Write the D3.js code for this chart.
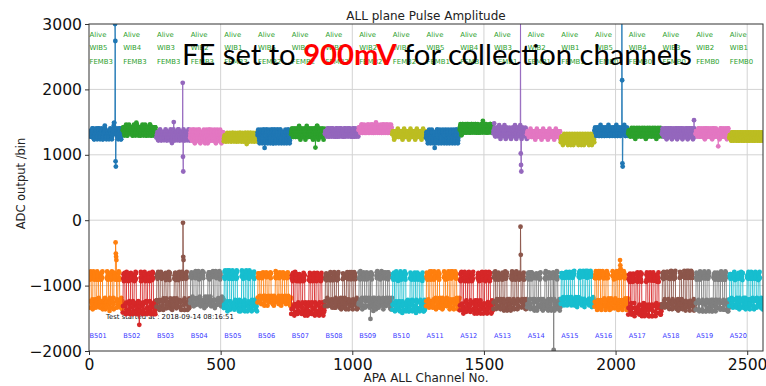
<!DOCTYPE html>
<html>
<head>
<meta charset="utf-8">
<script src="https://cdn.jsdelivr.net/npm/d3@7"></script>
<style>
  html, body { margin: 0; padding: 0; background: #fff; }
  svg { display: block; }
</style>
</head>
<body>
<svg id="chart" width="766" height="386"></svg>
<script>
// ---------------------------------------------------------------------------
// Data
// ---------------------------------------------------------------------------
const xTicks = [0, 500, 1000, 1500, 2000, 2500];
const yTicks = [-2000, -1000, 0, 1000, 2000, 3000];
const channelsPerFemb = 128;

// label rows written at the top / bottom of every FEMB column
const statusLabels = Array(20).fill("Alive");
const wibLabels = ["WIB5","WIB4","WIB3","WIB2","WIB1","WIB5","WIB4","WIB3","WIB2","WIB1",
                   "WIB5","WIB4","WIB3","WIB2","WIB1","WIB5","WIB4","WIB3","WIB2","WIB1"];
const fembLabels = ["FEMB3","FEMB3","FEMB3","FEMB3","FEMB3","FEMB2","FEMB2","FEMB2","FEMB2","FEMB2",
                    "FEMB1","FEMB1","FEMB1","FEMB1","FEMB1","FEMB0","FEMB0","FEMB0","FEMB0","FEMB0"];
const boardLabels = ["B501","B502","B503","B504","B505","B506","B507","B508","B509","B510",
                     "A511","A512","A513","A514","A515","A516","A517","A518","A519","A520"];
const testStamp = "Test started at : 2018-09-14 08:16:51";

// positive pulse amplitude: mean level per FEMB (ADC bins)
const posLevel = [1300,1315,1285,1280,1270,1280,1295,1300,1315,1295,
                  1280,1320,1305,1295,1255,1310,1305,1300,1300,1280];
// negative pulse amplitude: level of collection-type and induction-type channels per FEMB
const negCollect = [-865,-870,-870,-860,-850,-860,-870,-875,-860,-865,
                    -865,-870,-865,-860,-855,-860,-880,-855,-865,-870];
const negInduct = [-1300,-1350,-1310,-1280,-1330,-1270,-1370,-1300,-1300,-1330,
                   -1300,-1340,-1320,-1320,-1290,-1310,-1380,-1320,-1330,-1300];

// channel type inside a FEMB: 1 = collection-type level, 0 = induction-type level
const channelMask = [
  "00",
  "1111111" + "000000" + "11111111" + "0000000" + "1111111" + "0000000" + "11111111" + "000000",
  "0000000000",
  "1111111" + "0000000" + "1111111" + "000000" + "11111111" + "0000000" + "1111111" + "000000",
  "00000"
].join("");

// per-channel deviation codes (0..9, 4.5 = FEMB level), positive amplitude
const posDev = [
"5565 6654 4455 6776 5443 3445 5667 6543 4456 7765 5434 5566 7654 3345 5667 8765 4434 5666 5544 3456 6765 5443 4556 6789 9654 3445 5676 5443 4566 7765 4334 5667",
"6677 6554 5667 7865 5445 6677 8765 5566 7776 5445 6678 7655 4556 6787 6554 5667 7654 4556 6778 7654 5566 7876 5445 6677 6554 5668 8765 4456 6776 5545 6677 7654",
"4455 6543 3445 5676 5433 4556 6654 4344 5567 6543 3455 6654 4345 5676 5432 3456 6765 4334 5566 5443 4567 7654 3345 5665 4434 5677 6543 3456 6654 4345 5676 5433",
"4567 6543 3456 7765 4323 4567 6654 3345 6776 5432 3456 6543 4456 7654 3234 5676 5432 3456 7765 4334 5676 5443 3456 6765 4323 4567 6654 3345 5676 5432 4456 6654",
"3445 5543 3345 5654 4334 4556 5543 3344 5665 4433 4556 5443 3345 5654 3344 5665 4433 3456 5543 3345 5665 4432 3456 6543 3344 5665 4433 4556 5443 3345 5654 4433",
"5667 6543 2345 6765 4323 4567 7654 3234 5677 6432 3456 7654 3234 5677 6532 2456 7765 4323 4567 7654 3234 5677 6432 3456 6654 3234 5676 6432 3456 7765 4323 4566",
"5667 7654 4566 7765 4456 6776 5445 6787 6543 4567 7654 4456 6776 5434 5678 7654 4456 6776 5445 6677 6543 4567 7765 4456 6788 6543 4567 7654 4456 6776 5443 5667",
"5566 6654 5567 7654 4566 6765 5456 7765 5456 6654 4567 7654 5456 6765 4556 7765 5456 6654 4567 7654 5566 6765 4556 7765 5456 6654 4567 7654 5456 6765 4556 6654",
"6677 7765 5678 8765 5667 7876 5567 7765 6678 8765 5667 7876 5678 8765 5667 7765 6678 8876 5667 7765 6678 7765 5667 8876 5678 7765 6678 8765 5667 7876 5678 7765",
"5566 6543 4556 6654 4455 6765 4456 6654 4556 6543 4456 6765 4456 6654 4556 6543 4456 6765 4456 6654 4556 6543 4456 6765 4455 6654 4556 6543 4456 6765 4456 6654",
"4566 6432 3456 7654 3234 5676 6432 3456 6654 3234 5677 6543 2345 6765 4323 4566 7654 3234 5676 6432 3456 7654 3234 5667 6543 2345 6765 4323 4567 7654 3234 5676",
"6778 7654 5678 8765 5667 7876 5567 8876 5678 7765 5667 8876 5678 7765 6678 8765 5667 7876 5567 7765 6678 8765 5667 7876 5678 8765 5667 7765 6678 8876 5667 7765",
"5667 7654 4567 7765 5456 6787 6543 4567 7765 5456 6787 6543 4567 7765 5456 6776 6543 4567 7765 5456 6787 6543 4567 7765 5456 6787 6543 4567 7765 5456 6776 6543",
"5566 6654 4456 6765 4456 6654 4556 6643 4456 6765 4556 6654 4456 6643 4556 6765 4456 6654 4556 6643 4456 6765 4456 6654 4556 6643 4456 6765 4556 6654 4456 6643",
"3445 5543 2345 5654 3334 4556 5432 3345 5654 3323 4556 5543 2345 5654 3334 4556 5432 3345 5654 3323 4556 5543 2345 5654 3334 4556 5432 3345 5654 3323 4556 5543",
"6677 6554 5667 7765 5445 6678 7654 4567 7765 5445 6677 7654 5566 7876 5445 6677 6554 5667 7765 5445 6678 7654 4567 7765 5445 6677 7654 5566 7876 5445 6677 6554",
"5566 6554 4456 6765 5445 5676 6543 4456 6765 5445 5676 6654 4456 6765 5445 5676 6543 4456 6765 5445 5676 6654 4456 6765 5445 5676 6543 4456 6765 5445 5676 6654",
"5567 6654 4456 6776 5434 5667 7654 4456 6776 5434 5667 6654 4456 6776 5434 5667 7654 4456 6776 5434 5667 6654 4456 6776 5434 5667 7654 4456 6776 5434 5667 6654",
"5566 6654 5567 7654 4456 6765 5445 6676 6543 4567 7654 4456 6765 5445 6676 6543 4567 7654 4456 6765 5445 6676 6543 4567 7654 4456 6765 5445 6676 6543 4567 7654",
"4455 5543 3456 6654 3345 5665 4433 4556 6543 3345 5665 4433 4556 6543 3345 5665 4433 4556 6543 3345 5665 4433 4556 6543 3345 5665 4433 4556 6543 3345 5665 4433"
];

// per-channel deviation codes (0..9, 4.5 = level of that channel type), negative amplitude
const negDev = [
"3748 2659 4736 5827 3946 2758 4637 5829 3746 2958 4637 5728 3849 2657 4738 5926 4637 3958 2746 5819 3647 2859 4736 5928 3657 2849 4738 5627 3948 2756 4839 5627",
"2637 4158 3726 1849 2537 4618 3927 1548 2736 4819 3628 1547 2938 4716 3529 1847 2638 4917 3526 1748 2839 4617 3928 1546 2737 4819 3628 1547 2938 4716 3529 1847",
"4857 3649 5738 2846 4957 3648 5729 3847 4658 2937 5746 3859 4628 3957 5738 2846 4759 3648 5827 3946 4758 2639 5847 3726 4958 3647 5829 2746 3859 4627 5738 3946",
"5746 4837 6958 4736 5847 3968 4756 5839 4627 5948 3756 4869 5738 4627 5948 3857 4769 5638 4827 5946 3758 4869 5637 4728 5946 3857 4768 5639 4827 5738 4956 3847",
"4638 2957 3746 5829 4637 2958 3847 5726 4938 2647 3859 5746 2938 4657 3829 5746 2638 4957 3726 5849 2637 4958 3726 5847 2938 4657 3829 5746 4638 2957 3746 5829",
"5847 4736 6958 5847 4736 5869 4738 6957 5846 4738 6859 5746 4837 6958 5746 4839 5768 4937 5846 6758 4937 5846 4738 5967 4856 3748 5967 4856 3748 5967 4856 3748",
"2536 3718 4627 1839 2546 3718 2649 3817 4526 1738 2649 3518 4726 1839 2547 3618 4729 2538 1647 3829 2516 4738 2619 3847 1528 4637 2819 3546 1728 4639 2517 3846",
"4736 5827 3948 4657 5738 2946 4857 3628 5749 4836 3957 4628 5739 4846 3657 4928 5736 3847 4659 5738 2846 4957 3628 5749 4836 3957 4628 5739 4846 3657 4928 5736",
"5638 4729 3847 5926 4738 5629 3847 4958 2736 5849 4637 3958 4726 5839 1647 3958 4726 5839 4637 3948 5726 4839 3657 4928 5736 3847 4659 5738 2846 4957 3628 5749",
"3647 2538 4726 3859 2647 3518 4736 2859 3627 4518 2736 3849 4627 2538 3749 4628 2537 3846 4729 2638 3547 4826 3519 2748 3627 4538 2849 3726 4518 3627 2849 3756",
"4758 3627 5846 3759 4628 3947 5736 4829 3658 4927 3746 5839 4627 3958 4736 5829 3647 4958 3726 5849 4637 3958 4726 5839 3647 4958 3726 5849 4637 3958 4726 5839",
"3627 1849 2736 4518 3729 1648 2937 4516 3829 1746 2938 4517 2639 3748 1529 3847 2619 4738 2516 3849 1627 3948 2517 4736 2819 3647 1528 4739 2618 3547 1829 4637",
"3748 4659 2837 4956 3748 2659 4837 3956 4728 3659 2847 4936 3758 2649 4837 3956 4728 3659 2847 4936 3758 2649 4837 3956 4728 3659 2847 4936 3758 2649 4837 3956",
"4637 3528 4759 3648 2837 4659 3748 2936 4657 3728 4859 3647 2738 4659 3846 2937 4658 3729 4846 3657 2938 4756 3649 2837 4658 3749 2836 4657 3928 4746 3659 2847",
"5847 4736 5968 4857 3746 5869 4758 5937 4846 5768 4957 3846 5769 4858 5947 4736 5869 4758 3947 5868 4756 5947 4836 5769 4858 3947 5768 4856 5947 4738 5869 4757",
"4736 3958 4627 5849 3736 4958 3627 4849 5736 3958 4627 3849 5736 4958 3627 4849 3736 5958 4627 3849 4736 3958 5627 4849 3736 4958 3627 5849 4736 3958 4627 3849",
"2637 3518 1749 2636 3518 2749 1636 3528 2749 1637 3528 2649 3718 1547 2839 3617 2548 1739 3627 2518 1749 3636 2518 1749 3627 2548 1739 3617 2549 1738 3627 2548",
"4637 5728 3849 4657 5738 3846 4957 3628 4759 5836 3947 4628 5739 4846 3657 4928 5736 3847 4659 5738 3846 4957 3628 4759 5836 3947 4628 5739 4846 3657 4928 5736",
"3748 2657 4839 3726 2958 4637 3829 2746 4958 3627 2849 4736 3958 2647 4839 3726 2958 4637 3829 2746 4958 3627 2849 4736 3958 2647 4839 3726 2958 4637 3829 2746",
"4857 3746 5968 4837 3759 4628 5847 3956 4738 5629 4837 3946 5728 4639 3857 4926 5738 4647 3958 4726 5839 4657 3948 4726 5839 4657 3948 4726 5839 4657 3948 4726"
];

// channels whose amplitude is far from the FEMB level: [channel, ADC]
const posOutliers = [[99, 3000], [100, 2740], [101, 900], [102, 820],
                     [180, 1490], [322, 1500], [356, 2100], [357, 970], [358, 745],
                     [667, 1105], [860, 1110], [1090, 1495], [1313, 1105],
                     [1496, 1520], [1539, 1480],
                     [1639, 3300], [1640, 1020], [1641, 845], [1642, 745],
                     [2024, 3040], [2025, 2140], [2026, 870], [2027, 820],
                     [2298, 1530], [2390, 1130]];
const negOutliers = [[101, -340], [102, -510], [103, -560], [104, -610],
                     [191, -1600],
                     [357, -40], [358, -560], [359, -610],
                     [1069, -1510],
                     [1639, -100], [1640, -530],
                     [1765, -1985],
                     [2017, -610], [2018, -690], [2019, -740]];

// ---------------------------------------------------------------------------
// Layout / style
// ---------------------------------------------------------------------------
const W = 766, H = 386;
const plot = { left: 89, right: 763, top: 24, bottom: 351 };
const palette = ["#1f77b4","#ff7f0e","#2ca02c","#d62728","#9467bd",
                 "#8c564b","#e377c2","#7f7f7f","#bcbd22","#17becf"];
const axisFont = "'DejaVu Sans', sans-serif";
const posStep = 42, collStep = 18, indStep = 25;   // ADC bins per deviation code

const x = d3.scaleLinear().domain([0, 2560]).range([plot.left, plot.right]);
const y = d3.scaleLinear().domain([-2000, 3000]).range([plot.bottom, plot.top]);

function codes(str) {
  const c = str.replace(/\s+/g, "").split("").map(Number);
  return c.slice(0, channelsPerFemb);
}

// build one positive and one negative series per FEMB
const series = [];
const posOut = new Map(posOutliers), negOut = new Map(negOutliers);
for (let k = 0; k < 20; k++) {
  const pos = codes(posDev[k]).map((c, i) => {
    const ch = k * channelsPerFemb + i;
    return { ch, v: posOut.has(ch) ? posOut.get(ch) : posLevel[k] + (c - 4.5) * posStep };
  });
  const neg = codes(negDev[k]).map((c, i) => {
    const ch = k * channelsPerFemb + i;
    const coll = channelMask[i] === "1";
    const v = coll ? negCollect[k] + (c - 4.5) * collStep : negInduct[k] + (c - 4.5) * indStep;
    return { ch, v: negOut.has(ch) ? negOut.get(ch) : v };
  });
  series.push({ data: pos, color: palette[(2 * k) % 10] });
  series.push({ data: neg, color: palette[(2 * k + 1) % 10] });
}

// ---------------------------------------------------------------------------
// Drawing
// ---------------------------------------------------------------------------
const svg = d3.select("#chart");

svg.append("defs").append("clipPath").attr("id", "plotClip")
  .append("rect")
  .attr("x", plot.left).attr("y", plot.top)
  .attr("width", plot.right - plot.left).attr("height", plot.bottom - plot.top);

// grid
const grid = svg.append("g").attr("stroke", "#d3d3d3").attr("stroke-width", 1);
grid.selectAll(".gx").data(xTicks.filter(t => t > 0)).join("line")
  .attr("x1", d => x(d)).attr("x2", d => x(d))
  .attr("y1", plot.top).attr("y2", plot.bottom);
grid.selectAll(".gy").data(yTicks.filter(t => t > -2000 && t < 3000)).join("line")
  .attr("x1", plot.left).attr("x2", plot.right)
  .attr("y1", d => y(d)).attr("y2", d => y(d));

// timestamp sits beneath the data
svg.append("text")
  .attr("x", x(65)).attr("y", y(-1505))
  .attr("font-family", axisFont).attr("font-size", 6.8).attr("fill", "#111")
  .text(testStamp);

// data series: line with circle markers
const line = d3.line().x(d => x(d.ch)).y(d => y(d.v));
const dataG = svg.append("g").attr("clip-path", "url(#plotClip)");
series.forEach(s => {
  const g = dataG.append("g");
  g.append("path").datum(s.data)
    .attr("d", line).attr("fill", "none")
    .attr("stroke", s.color).attr("stroke-width", 0.9);
  g.selectAll("circle").data(s.data).join("circle")
    .attr("cx", d => x(d.ch)).attr("cy", d => y(d.v))
    .attr("r", 2.4).attr("fill", s.color);
});

// FEMB status labels
const labelG = svg.append("g").attr("font-family", axisFont);
const colX = i => x(i * channelsPerFemb + 2);
[[statusLabels, 2830], [wibLabels, 2625], [fembLabels, 2420]].forEach(([arr, v]) => {
  labelG.selectAll(null).data(arr).join("text")
    .attr("x", (d, i) => colX(i)).attr("y", y(v))
    .attr("dominant-baseline", "middle")
    .attr("font-size", 6.9).attr("fill", "#2ca02c")
    .text(d => d);
});
labelG.selectAll(null).data(boardLabels).join("text")
  .attr("x", (d, i) => colX(i)).attr("y", y(-1780))
  .attr("dominant-baseline", "middle")
  .attr("font-size", 6.6).attr("fill", "#3a3aff")
  .text(d => d);

// frame
svg.append("rect")
  .attr("x", plot.left).attr("y", plot.top)
  .attr("width", plot.right - plot.left).attr("height", plot.bottom - plot.top)
  .attr("fill", "none").attr("stroke", "#333").attr("stroke-width", 1);

// axes
const xAxis = d3.axisBottom(x).tickValues(xTicks).tickSize(4).tickPadding(3).tickFormat(d3.format("d"));
const yAxis = d3.axisLeft(y).tickValues(yTicks).tickSize(4).tickPadding(3)
  .tickFormat(d => d < 0 ? "\u2212" + Math.abs(d) : String(d));
const gx = svg.append("g").attr("transform", `translate(0,${plot.bottom})`).call(xAxis);
const gy = svg.append("g").attr("transform", `translate(${plot.left},0)`).call(yAxis);
[gx, gy].forEach(g => {
  g.select(".domain").remove();
  g.selectAll(".tick line").attr("stroke", "#333");
  g.selectAll(".tick text").attr("font-family", axisFont).attr("font-size", 15.6).attr("fill", "#111");
});
gx.selectAll(".tick text").attr("dy", "0.78em");

// titles
svg.append("text")
  .attr("x", (plot.left + plot.right) / 2).attr("y", 20)
  .attr("text-anchor", "middle").attr("font-family", axisFont).attr("font-size", 12).attr("fill", "#222")
  .text("ALL plane Pulse Amplitude");
svg.append("text")
  .attr("x", (plot.left + plot.right) / 2).attr("y", 382)
  .attr("text-anchor", "middle").attr("font-family", axisFont).attr("font-size", 12).attr("fill", "#222")
  .text("APA ALL Channel No.");
svg.append("text")
  .attr("transform", `translate(25,${(plot.top + plot.bottom) / 2 - 4}) rotate(-90)`)
  .attr("text-anchor", "middle").attr("font-family", axisFont).attr("font-size", 11.5).attr("fill", "#222")
  .text("ADC output /bin");

// headline note over the plot
const note = svg.append("text")
  .attr("x", 182).attr("y", 65)
  .attr("font-family", "Lato, 'Open Sans', sans-serif").attr("font-size", 29.2).attr("fill", "#000");
note.append("tspan").text("FE set to ");
note.append("tspan").attr("fill", "#ff0000").attr("font-weight", "bold").text("900mV");
note.append("tspan").text(" for collection channels");
</script>
</body>
</html>
